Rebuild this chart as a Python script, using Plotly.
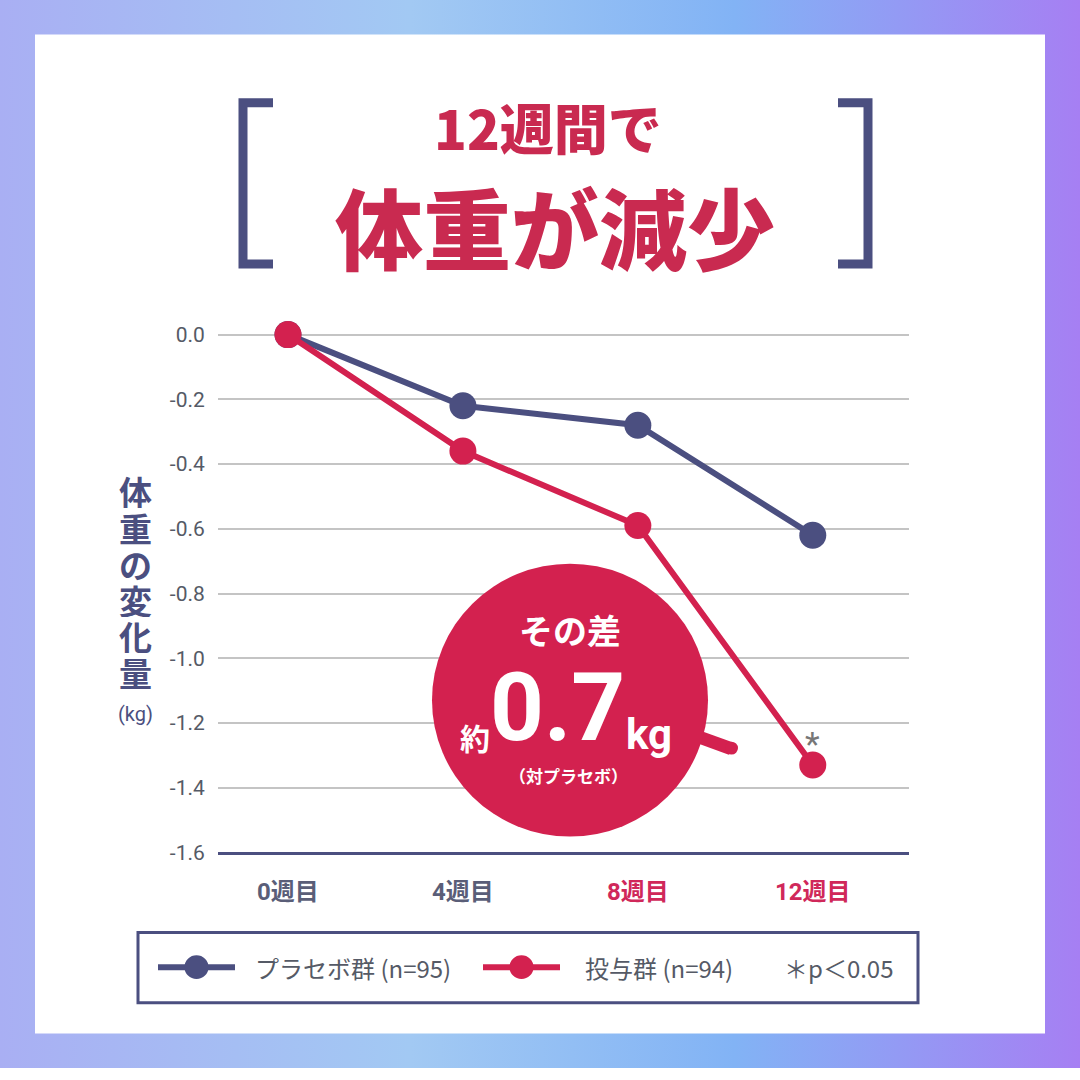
import base64
import plotly.graph_objects as go

# chart data
weeks = ["0週目", "4週目", "8週目", "12週目"]
placebo = [0.0, -0.22, -0.28, -0.62]
dosed = [0.0, -0.36, -0.59, -1.33]
y_ticks = [0.0, -0.2, -0.4, -0.6, -0.8, -1.0, -1.2, -1.4, -1.6]
y_labels = [f"{v:.1f}" for v in y_ticks]
week_label_colors = ["#5A5E78", "#5A5E78", "#D0285A", "#D0285A"]

NAVY = "#4B4F80"
RED = "#D3214F"
GREY = "#555A66"
W = 1080
CJK = "Noto Sans CJK JP"
NUM = "Roboto, Noto Sans CJK JP"


def px(x):
    return x / W


def py(y):
    return 1 - y / W


fig = go.Figure()
fig.add_trace(go.Scatter(
    x=weeks, y=placebo, mode="lines+markers", name="プラセボ群",
    line=dict(color=NAVY, width=6), marker=dict(size=27, color=NAVY),
    cliponaxis=False,
))
fig.add_trace(go.Scatter(
    x=weeks, y=dosed, mode="lines+markers", name="投与群",
    line=dict(color=RED, width=6), marker=dict(size=27, color=RED),
    cliponaxis=False,
))

# gradient frame behind the white card
svg = (
    '<svg xmlns="http://www.w3.org/2000/svg" width="1080" height="1080">'
    '<defs><linearGradient id="g" x1="0" y1="0" x2="1" y2="0">'
    '<stop offset="0" stop-color="#A9AFF3"/>'
    '<stop offset="0.38" stop-color="#A2C9F3"/>'
    '<stop offset="0.68" stop-color="#82B3F5"/>'
    '<stop offset="1" stop-color="#A67FF3"/>'
    '</linearGradient></defs>'
    '<rect width="1080" height="1080" fill="url(#g)"/></svg>'
)
bg_src = "data:image/svg+xml;base64," + base64.b64encode(svg.encode()).decode()

shapes = [
    dict(type="rect", xref="paper", yref="paper", x0=px(35), x1=px(1045),
         y0=py(1045), y1=py(35), fillcolor="white", line=dict(width=0),
         layer="below"),
]

# title brackets
left_br = f"M {px(273)} {py(104)} L {px(243)} {py(104)} L {px(243)} {py(267)} L {px(273)} {py(267)}"
right_br = f"M {px(838)} {py(104)} L {px(868)} {py(104)} L {px(868)} {py(267)} L {px(838)} {py(267)}"
for p in (left_br, right_br):
    shapes.append(dict(type="path", xref="paper", yref="paper", path=p,
                       line=dict(color=NAVY, width=9)))

# callout bubble with its little tail
shapes.append(dict(type="line", xref="paper", yref="paper",
                   x0=px(690), y0=py(742), x1=px(731), y1=py(757),
                   line=dict(color=RED, width=13), layer="above"))
shapes.append(dict(type="circle", xref="paper", yref="paper",
                   x0=px(725), x1=px(738), y0=py(763), y1=py(750),
                   fillcolor=RED, line=dict(width=0), layer="above"))
shapes.append(dict(type="circle", xref="paper", yref="paper",
                   x0=px(432), x1=px(708), y0=py(846), y1=py(570),
                   fillcolor=RED, line=dict(width=0), layer="above"))

# legend box drawn by hand
shapes.append(dict(type="rect", xref="paper", yref="paper",
                   x0=px(138), x1=px(918), y0=py(1014), y1=py(943),
                   fillcolor="white", line=dict(color=NAVY, width=3)))
for x0, x1, col in ((158, 235, NAVY), (483, 560, RED)):
    shapes.append(dict(type="line", xref="paper", yref="paper",
                       x0=px(x0), x1=px(x1), y0=py(978), y1=py(978),
                       line=dict(color=col, width=6)))
    cx = (x0 + x1) / 2
    shapes.append(dict(type="circle", xref="paper", yref="paper",
                       x0=px(cx - 12), x1=px(cx + 12), y0=py(990), y1=py(966),
                       fillcolor=col, line=dict(width=0)))

annotations = [
    dict(text="12週間で", x=px(548), y=py(128),
         font=dict(size=54, color="#C92A50", family=CJK, weight=900)),
    dict(text="体重が減少", x=px(555), y=py(227),
         font=dict(size=88, color="#C92A50", family=CJK, weight=900)),
    dict(text="(kg)", x=px(135), y=py(722),
         font=dict(size=20, color=NAVY, family=NUM)),
    dict(text="*", x=px(812), y=py(752),
         font=dict(size=34, color="#777777", family=NUM)),
    # bubble text
    dict(text="<b>その差</b>", x=px(570), y=py(637),
         font=dict(size=34, color="white", family=CJK)),
    dict(text="<b>約</b>", x=px(475), y=py(745),
         font=dict(size=30, color="white", family=CJK)),
    dict(text="<b>0.7</b>", x=px(557), y=py(716),
         font=dict(size=94, color="white", family="Roboto")),
    dict(text="<b>kg</b>", x=px(649), y=py(743),
         font=dict(size=42, color="white", family="Roboto")),
    dict(text="<b>（対プラセボ）</b>", x=px(568), y=py(784),
         font=dict(size=17, color="white", family=CJK)),
    # legend text
    dict(text="プラセボ群 (n=95)", x=px(253), y=py(978), xanchor="left",
         font=dict(size=24, color=GREY, family=CJK)),
    dict(text="投与群 (n=94)", x=px(583), y=py(978), xanchor="left",
         font=dict(size=24, color=GREY, family=CJK)),
    dict(text="＊p＜0.05", x=px(782), y=py(978), xanchor="left",
         font=dict(size=24, color=GREY, family=CJK)),
]

# vertical y-axis title, one character per line, set tight like the reference
for i, ch in enumerate("体重の変化量"):
    annotations.append(dict(text=f"<b>{ch}</b>", x=px(135), y=py(497 + i * 36.6),
                            height=34, valign="middle",
                            font=dict(size=33, color=NAVY, family=CJK)))

for a in annotations:
    a.update(xref="paper", yref="paper", showarrow=False)
    a.setdefault("xanchor", "center")
    a.setdefault("yanchor", "middle")

fig.update_layout(
    width=W, height=W,
    margin=dict(l=0, r=0, t=0, b=0),
    paper_bgcolor="white",
    plot_bgcolor="rgba(0,0,0,0)",
    showlegend=False,
    images=[dict(source=bg_src, xref="paper", yref="paper", x=0, y=1,
                 sizex=1, sizey=1, xanchor="left", yanchor="top",
                 sizing="stretch", layer="below")],
    shapes=shapes,
    annotations=annotations,
    xaxis=dict(
        domain=[px(218), px(909)],
        range=[-0.4, 3.55],
        tickvals=weeks,
        ticktext=[f"<span style='color:{c}'><b>{w}</b></span>"
                  for w, c in zip(weeks, week_label_colors)],
        tickfont=dict(size=24, family=NUM),
        ticks="outside", ticklen=16, tickcolor="rgba(0,0,0,0)",
        showgrid=False, zeroline=False,
        showline=True, linecolor=NAVY, linewidth=3,
    ),
    yaxis=dict(
        domain=[py(862), py(322)],
        range=[-1.6, 0.05],
        tickvals=y_ticks,
        ticktext=y_labels,
        tickfont=dict(size=21, color=GREY, family=NUM),
        ticks="outside", ticklen=8, tickcolor="rgba(0,0,0,0)",
        showgrid=True, gridcolor="#C4C4C4", gridwidth=1.5,
        zeroline=False, showline=False,
    ),
)

# the page body has a default 8px margin; drop it so the figure sits at 0,0
fig.write_html(
    "out.html",
    config={"displayModeBar": False},
    post_script="document.body.style.margin='0';document.body.style.overflow='hidden';",
)
